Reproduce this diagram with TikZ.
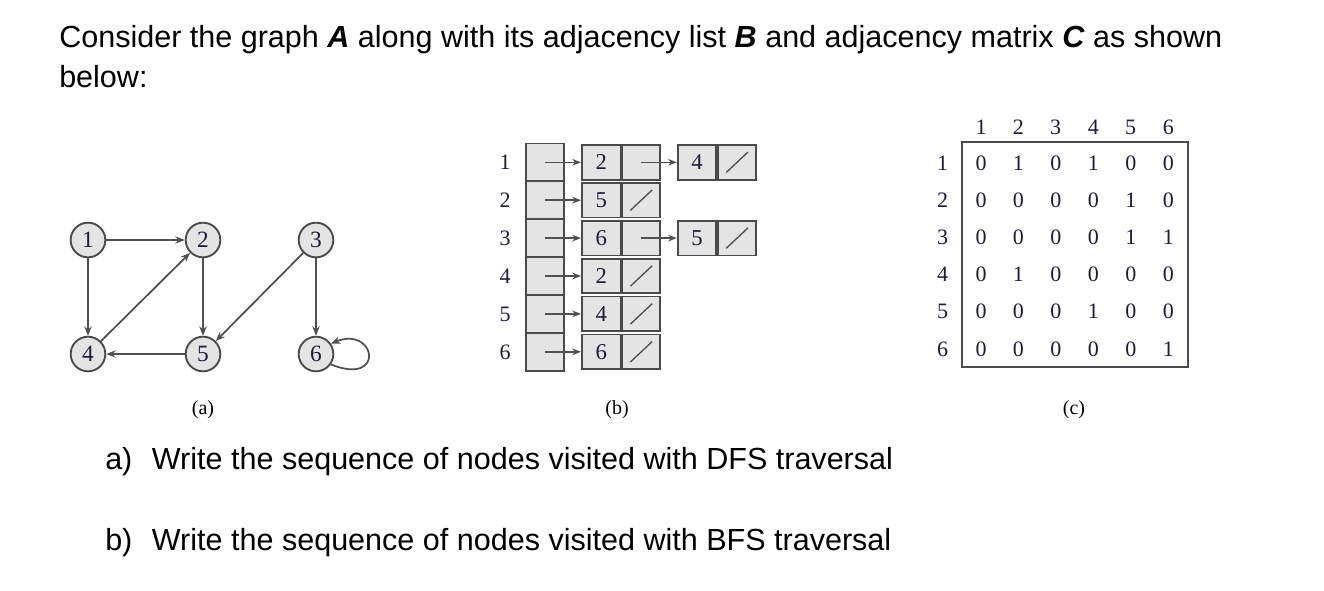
\documentclass[tikz,border=0pt]{standalone}
\usepackage{fontspec}
\setmainfont{Liberation Serif}
\newfontfamily\sansf{Liberation Sans}
\usetikzlibrary{arrows.meta,calc}
\definecolor{nodefill}{HTML}{E4E4E4}
\definecolor{nodeline}{HTML}{4A4A4A}
\definecolor{edgecol}{HTML}{505050}
\definecolor{digit}{HTML}{1C1C3A}
\tikzset{
  bigtext/.style={font=\sansf\fontsize{22.9}{27}\selectfont, inner sep=0pt, anchor=base west},
  vert/.style={circle, draw=nodeline, fill=nodefill, line width=1.4pt, minimum size=26pt, inner sep=0pt,
    font=\fontsize{17.5}{19}\selectfont, text=digit, text height=11.8pt, text depth=0pt},
  edge/.style={draw=edgecol, line width=1.3pt, -{Stealth[length=7pt,width=5.5pt]}},
  arrcell/.style={draw=nodeline, fill=nodefill, line width=1.3pt, minimum width=28.5pt, minimum height=28.4pt, inner sep=0pt},
  keycell/.style={draw=nodeline, fill=nodefill, line width=1.3pt, minimum width=29pt, minimum height=26pt, inner sep=0pt,
    font=\fontsize{17}{19}\selectfont, text=digit, text height=11.5pt, text depth=0pt},
  ptrcell/.style={draw=nodeline, fill=nodefill, line width=1.3pt, minimum width=28.5pt, minimum height=26pt, inner sep=0pt},
  ptr/.style={draw=edgecol, line width=1.1pt, -{Stealth[length=6.5pt,width=5pt]}},
  nilslash/.style={draw=edgecol, line width=1pt},
  lbl/.style={font=\fontsize{16.5}{18}\selectfont, text=digit, inner sep=0pt, text height=11.2pt, text depth=0pt},
  mnum/.style={font=\fontsize{16.5}{18}\selectfont, text=digit, inner sep=0pt, text height=11.2pt, text depth=0pt},
  capl/.style={font=\fontsize{15}{17}\selectfont, inner sep=0pt}
}
\begin{document}
\begin{tikzpicture}[x=0.75pt, y=-0.75pt]
\useasboundingbox (0,0) rectangle (1324,590);
% title
\node[bigtext] (t1) at (59,47.7) {Consider the graph \textbf{\textit{A}} along with its adjacency list \textbf{\textit{B}} and adjacency matrix \textbf{\textit{C}} as shown};
\node[bigtext] (t2) at (59,87.7) {below:};
% graph (a)
\node[vert] (n1) at (88,240) {1};
\node[vert] (n2) at (203,240) {2};
\node[vert] (n3) at (316,240) {3};
\node[vert] (n4) at (88,354) {4};
\node[vert] (n5) at (203,354) {5};
\node[vert] (n6) at (316,354) {6};
\draw[edge] (n1) -- (n2);
\draw[edge] (n1) -- (n4);
\draw[edge] (n4) -- (n2);
\draw[edge] (n2) -- (n5);
\draw[edge] (n3) -- (n5);
\draw[edge] (n5) -- (n4);
\draw[edge] (n3) -- (n6);
\draw[edge] (n6.-35) .. controls +(55,22) and +(45,-18) .. (n6.35);
\node[capl] (ca) at (203,410) {(a)};
% adjacency list (b)
\foreach \i/\y in {1/162.3,2/200.2,3/238.1,4/276.0,5/313.9,6/351.8}{
  \node[lbl] (r\i) at (505,\y) {\i};
  \node[arrcell] (a\i) at (545,\y) {};
}
\foreach \i/\y/\k in {1/162.3/2,2/200.2/5,3/238.1/6,4/276.0/2,5/313.9/4,6/351.8/6}{
  \node[keycell] (k\i) at (601.2,\y) {\k};
  \node[ptrcell, anchor=west] (p\i) at (k\i.east) {};
  \draw[ptr] (a\i.center) -- (k\i.west);
}
\foreach \i in {2,4,5,6}{
  \draw[nilslash] ($(p\i.south west)+(9,-8)$) -- ($(p\i.north east)+(-9,8)$);
}
\node[keycell] (k1b) at (697,162.3) {4};
\node[ptrcell, anchor=west] (p1b) at (k1b.east) {};
\node[keycell] (k3b) at (697,238.1) {5};
\node[ptrcell, anchor=west] (p3b) at (k3b.east) {};
\draw[ptr] (p1.center) -- (k1b.west);
\draw[ptr] (p3.center) -- (k3b.west);
\draw[nilslash] ($(p1b.south west)+(9,-8)$) -- ($(p1b.north east)+(-9,8)$);
\draw[nilslash] ($(p3b.south west)+(9,-8)$) -- ($(p3b.north east)+(-9,8)$);
\node[capl] (cb) at (617,410) {(b)};
% adjacency matrix (c)
\node[draw=nodeline, line width=1.3pt, minimum width=170pt, minimum height=168.3pt, inner sep=0pt] (mbox) at (1075,254.5) {};
\foreach \j/\x in {1/981,2/1018.3,3/1055.7,4/1093.3,5/1130.7,6/1168.3}{
  \node[mnum] (h\j) at (\x,126.7) {\j};
}
\foreach \i/\y/\row in {1/163/{0,1,0,1,0,0},2/200/{0,0,0,0,1,0},3/237/{0,0,0,0,1,1},4/274/{0,1,0,0,0,0},5/311.5/{0,0,0,1,0,0},6/349/{0,0,0,0,0,1}}{
  \node[mnum] (m\i) at (942.7,\y) {\i};
  \foreach \v [count=\j] in \row {
    \node[mnum] (m\i-\j) at ({981+(\j-1)*37.46},\y) {\v};
  }
}
\node[capl] (cc) at (1074,410) {(c)};
% questions
\node[bigtext] (qa) at (105,469.3) {a)};
\node[bigtext] (qat) at (151.7,469.3) {Write the sequence of nodes visited with DFS traversal};
\node[bigtext] (qb) at (105,550) {b)};
\node[bigtext] (qbt) at (151.7,550) {Write the sequence of nodes visited with BFS traversal};
\end{tikzpicture}
\end{document}
